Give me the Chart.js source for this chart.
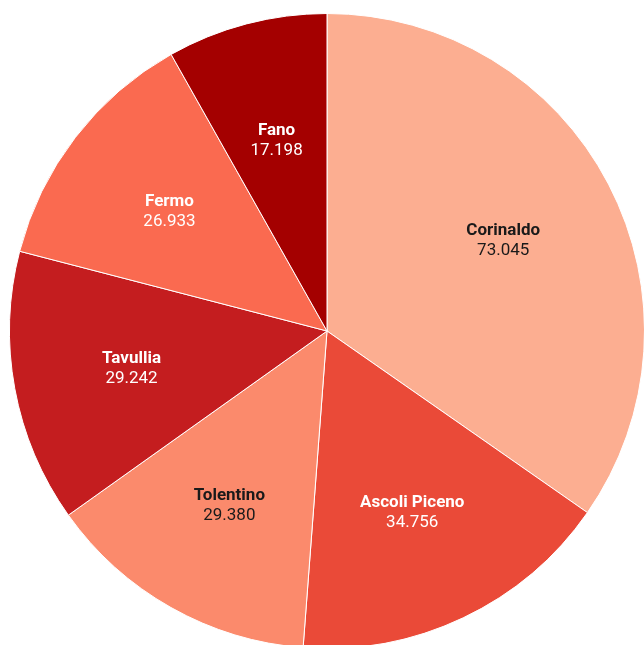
<!DOCTYPE html>
<html>
<head>
<meta charset="utf-8">
<script src="https://cdn.jsdelivr.net/npm/chart.js@4"></script>
<style>
  html, body { margin: 0; padding: 0; background: #fff; overflow: hidden; width: 644px; height: 645px; }
  #pie { position: absolute; left: 0; top: 0; }
</style>
</head>
<body>
<canvas id="pie" width="654" height="662" style="width:654px;height:662px"></canvas>
<script>
var labels = ['Corinaldo', 'Ascoli Piceno', 'Tolentino', 'Tavullia', 'Fermo', 'Fano'];
var values = [73.045, 34.756, 29.380, 29.242, 26.933, 17.198];
var valueText = ['73.045', '34.756', '29.380', '29.242', '26.933', '17.198'];
var colors = ['#fcae91', '#ea4a38', '#fb8a6c', '#c41d1f', '#fa6a50', '#a40000'];
var textColors = ['#1a1a1a', '#ffffff', '#1a1a1a', '#ffffff', '#ffffff', '#ffffff'];

// draws name + value inside each slice
var sliceLabels = {
    id: 'sliceLabels',
    afterDatasetsDraw: function (chart) {
        var ctx = chart.ctx;
        var meta = chart.getDatasetMeta(0);
        ctx.save();
        ctx.textAlign = 'center';
        ctx.textBaseline = 'middle';
        meta.data.forEach(function (arc, i) {
            var mid = (arc.startAngle + arc.endAngle) / 2;
            var r = arc.outerRadius * 0.626;
            var x = arc.x + Math.cos(mid) * r;
            var y = arc.y + Math.sin(mid) * r + 2;
            ctx.fillStyle = textColors[i];
            ctx.font = 'bold 17px Roboto';
            ctx.fillText(labels[i], x, y - 10);
            ctx.font = '17px Roboto';
            ctx.fillText(valueText[i], x, y + 10);
        });
        ctx.restore();
    }
};

new Chart(document.getElementById('pie'), {
    type: 'pie',
    data: {
        labels: labels,
        datasets: [
            {
                data: values,
                backgroundColor: colors,
                borderColor: '#ffffff',
                borderWidth: 1
            }
        ]
    },
    options: {
        responsive: false,
        animation: false,
        layout: { padding: { left: 9, right: 9, top: 13, bottom: 13 } },
        plugins: {
            legend: { display: false },
            tooltip: { enabled: false }
        }
    },
    plugins: [sliceLabels]
});
</script>
</body>
</html>
